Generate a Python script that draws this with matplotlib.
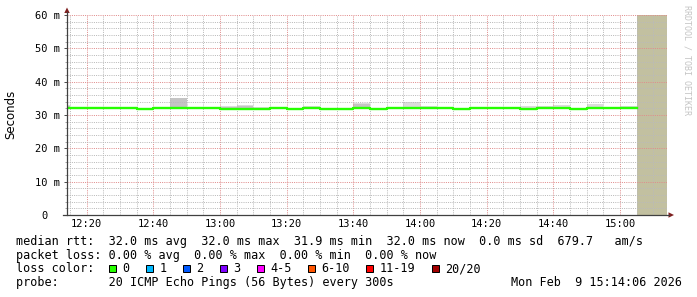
import matplotlib
matplotlib.use("Agg")
import matplotlib.pyplot as plt
from matplotlib.lines import Line2D
from matplotlib.patches import Rectangle, Polygon

# ---- data ----
# 5-minute bins starting 12:10 (minutes since midnight)
bin_start = [730 + 5 * i for i in range(35)]
median_ms = [32.0, 32.0, 32.0, 32.0, 32.0, 31.7, 32.0, 32.0, 32.0, 32.0,
             31.7, 31.7, 31.7, 32.0, 31.7, 32.0, 31.7, 31.7, 32.0, 31.7,
             32.0, 32.0, 32.0, 32.0, 31.7, 32.0, 32.0, 32.0, 31.7, 32.0,
             32.0, 31.7, 32.0, 32.0, 32.0]
smoke_top_ms = [33.0, 32.0, 32.0, 32.4, 32.5, 31.7, 32.0, 35.2, 32.0, 32.4,
                32.8, 33.1, 32.4, 32.4, 31.7, 32.7, 31.7, 31.7, 33.6, 31.7,
                32.0, 33.9, 32.7, 32.0, 31.7, 32.0, 32.0, 32.0, 32.6, 32.6,
                33.0, 31.7, 33.3, 32.0, 32.7]
smoke_core_ms = [32.6, 32.0, 32.0, 32.3, 32.4, 31.7, 32.0, 35.0, 32.0, 32.0,
                 32.5, 32.6, 31.7, 32.0, 31.7, 32.0, 31.7, 31.7, 33.4, 31.7,
                 32.0, 32.0, 32.5, 32.0, 31.7, 32.0, 32.0, 32.0, 31.7, 32.0,
                 32.0, 31.7, 32.0, 32.0, 32.0]
unknown_from = 905          # 15:05, no data after this
x_start, x_end = 734.1, 914.1   # 12:14:06 .. 15:14:06

x_ticks = [740, 760, 780, 800, 820, 840, 860, 880, 900]
x_ticklabels = ["12:20", "12:40", "13:00", "13:20", "13:40",
                "14:00", "14:20", "14:40", "15:00"]
y_ticks = [0, 10, 20, 30, 40, 50, 60]
y_ticklabels = ["0  ", "10 m", "20 m", "30 m", "40 m", "50 m", "60 m"]

loss_labels = ["0", "1", "2", "3", "4-5", "6-10", "11-19", "20/20"]
loss_colors = ["#26ff00", "#00b8ff", "#0059ff", "#7e00ff",
               "#ff00ff", "#ff5500", "#ff0000", "#a10000"]

legend_lines = [
    "median rtt:  32.0 ms avg  32.0 ms max  31.9 ms min  32.0 ms now  0.0 ms sd  679.7   am/s",
    "packet loss: 0.00 % avg  0.00 % max  0.00 % min  0.00 % now",
    "loss color:",
    "probe:       20 ICMP Echo Pings (56 Bytes) every 300s",
]
stamp = "Mon Feb  9 15:14:06 2026"

# ---- figure ----
W, H = 697, 297
fig = plt.figure(figsize=(W / 100, H / 100), dpi=100)


def fx(px):
    return px / W


def fy(py):
    return 1 - py / H


mono = "DejaVu Sans Mono"
axis_col = "#404040"
arrow_col = "#7f1f1f"

ax = fig.add_axes([fx(67), fy(215), fx(667) - fx(67), fy(15) - fy(215)])
ax.set_xlim(x_start, x_end)
ax.set_ylim(0, 60)
for s in ax.spines.values():
    s.set_visible(False)

edges = bin_start + [bin_start[-1] + 5]
top = smoke_top_ms + [smoke_top_ms[-1]]
core = smoke_core_ms + [smoke_core_ms[-1]]
med = median_ms + [median_ms[-1]]

ax.fill_between(edges, med, top, step="post", color="#dcdcdc", lw=0, zorder=1)
ax.fill_between(edges, med, core, step="post", color="#c4c4c4", lw=0, zorder=1.1)
ax.axvspan(unknown_from, x_end, color="#c2c0a0", lw=0, zorder=1.2)
ax.step(edges, med, where="post", color="#26ff00", lw=1.7, zorder=3)

ax.set_xticks(x_ticks)
ax.set_xticklabels(x_ticklabels, family=mono, fontsize=7.5)
ax.set_xticks(range(735, 915, 5), minor=True)
ax.set_yticks(y_ticks)
ax.set_yticklabels(y_ticklabels, family=mono, fontsize=7.5)
ax.set_yticks(range(0, 61, 2), minor=True)
ax.tick_params(axis="x", which="both", length=0, pad=3.2)
ax.tick_params(axis="y", which="major", direction="out", length=2.5,
               width=0.72, color="#505050", pad=2.2)
ax.tick_params(axis="y", which="minor", direction="out", length=1.5,
               width=0.72, color="#a8a8a8")

ax.set_axisbelow("line")
ax.grid(which="minor", color="#bababa", linestyle=(0, (1, 1.2)), lw=0.72)
ax.grid(which="major", color="#e08c8c", linestyle=(0, (1, 1.2)), lw=0.72)

# axes with arrows
fig.add_artist(Line2D([fx(67), fx(67)], [fy(215), fy(12)], color=axis_col, lw=0.9))
fig.add_artist(Line2D([fx(63), fx(669)], [fy(215), fy(215)], color=axis_col, lw=0.9))
fig.add_artist(Polygon([(fx(67), fy(7.5)), (fx(64.3), fy(13)), (fx(69.7), fy(13))],
                       closed=True, color=arrow_col, lw=0, transform=fig.transFigure))
fig.add_artist(Polygon([(fx(674), fy(215)), (fx(668.5), fy(212.3)), (fx(668.5), fy(217.7))],
                       closed=True, color=arrow_col, lw=0, transform=fig.transFigure))

fig.text(fx(11), fy(114), "Seconds", rotation=90, ha="center", va="center",
         fontsize=8.5, family="DejaVu Sans")
fig.text(fx(687), fy(5), "RRDTOOL / TOBI OETIKER", rotation=-90, ha="center",
         va="top", fontsize=6, family=mono, color="#c4c4c4")

# ---- legend text ----
baselines = [245.3, 258.8, 272.3, 285.8]
for line, b in zip(legend_lines, baselines):
    fig.text(fx(16), fy(b), line, family=mono, fontsize=8.5, va="baseline")
fig.text(fx(682), fy(baselines[3]), stamp, family=mono, fontsize=8.5,
         va="baseline", ha="right")

char_w = 7.1
bx = 108.7
for lab, col in zip(loss_labels, loss_colors):
    fig.add_artist(Rectangle((fx(bx), fy(272.3)), 7 / W, 7 / H, facecolor=col,
                             edgecolor="black", lw=0.72, transform=fig.transFigure))
    fig.text(fx(bx + 13.7), fy(baselines[2]), lab, family=mono, fontsize=8.5,
             va="baseline")
    bx += 37 + (len(lab) - 1) * char_w

fig.savefig("out.png", dpi=100)
